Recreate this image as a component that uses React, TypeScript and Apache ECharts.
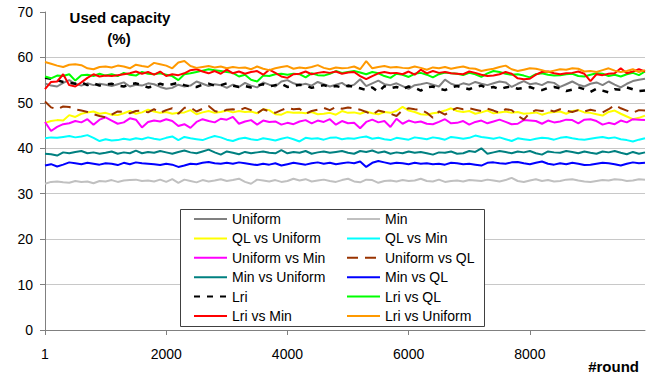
import React, { useEffect, useRef } from "react";
import * as echarts from "echarts";

const rounds: string[] = Array.from({ length: 100 }, (_, i) => (i === 0 ? "1" : String(i * 100)));

const uniform = [
  54.3, 53.8, 53.6, 54.4, 55.0, 54.2, 53.8, 54.3, 53.9, 54.2,
  54.0, 53.7, 54.1, 54.5, 53.6, 54.0, 53.8, 54.3, 54.1, 53.5,
  53.1, 53.3, 54.0, 53.6, 53.8, 54.7, 54.2, 53.7, 54.1, 53.9,
  53.3, 54.0, 53.5, 54.4, 53.8, 53.4, 54.5, 54.0, 53.6, 54.7,
  55.0, 54.3, 53.9, 54.2, 53.8, 54.6, 54.1, 53.6, 54.0, 54.4,
  53.5, 54.0, 55.2, 53.7, 54.3, 54.9, 54.1, 53.9, 54.3, 53.7,
  53.1, 53.9, 54.1, 54.4, 54.0, 53.6, 55.1, 54.2, 53.8, 54.3,
  54.0, 54.6, 54.2, 53.9, 54.3, 54.7, 54.5, 53.5, 54.2, 54.8,
  54.1, 54.3, 53.9, 54.6, 54.4, 53.5, 54.1, 54.7, 54.0, 53.6,
  54.2, 54.5, 53.9, 54.7, 54.0, 53.4, 54.2, 54.8, 55.1, 55.3,
];
const minS = [
  32.2, 32.6, 32.7, 32.5, 32.4, 32.8, 32.6, 32.7, 32.3, 32.8,
  32.7, 33.0, 32.6, 32.9, 33.0, 33.1, 32.8, 32.9, 32.7, 33.1,
  32.6, 33.2, 32.4, 33.1, 32.8, 32.5, 33.0, 32.7, 32.9, 33.2,
  32.8, 33.0, 33.3, 32.6, 32.2, 33.1, 32.9, 32.7, 33.0, 32.6,
  32.8, 33.3, 32.9, 33.2, 32.7, 32.9, 33.1, 32.8, 32.6, 33.0,
  33.3, 32.7, 32.5, 33.1, 33.0, 32.4, 32.8, 32.9, 32.7, 33.0,
  32.8, 32.9, 33.3, 32.8, 32.7, 33.1, 32.6, 32.8, 32.9, 32.7,
  33.0, 32.9, 32.8, 33.1, 32.9, 32.7, 33.0, 33.5, 32.8, 32.6,
  32.9, 33.2, 32.8, 33.0, 32.7, 32.8, 33.1, 33.2, 32.9, 32.7,
  32.6, 32.8, 33.0, 32.9, 33.2, 33.1, 32.8, 32.9, 33.2, 33.1,
];
const qlVsUniform = [
  45.6, 46.0, 46.2, 46.1, 47.3, 46.9, 47.6, 47.9, 48.1, 47.6,
  47.8, 47.4, 47.3, 47.7, 48.2, 47.6, 47.9, 48.5, 48.1, 47.8,
  48.0, 47.6, 47.8, 47.9, 48.4, 47.5, 47.9, 48.2, 47.8, 48.0,
  48.3, 47.9, 48.2, 48.0, 48.1, 47.7, 48.6, 48.4, 47.5, 47.4,
  48.0, 47.8, 47.9, 47.7, 48.0, 47.5, 47.6, 47.8, 47.4, 48.2,
  47.8, 47.9, 47.6, 48.1, 47.7, 47.5, 48.0, 47.8, 48.2, 49.1,
  48.3, 48.0, 47.5, 47.4, 47.7, 47.9, 48.3, 48.8, 48.2, 48.0,
  48.2, 47.6, 47.9, 48.3, 47.7, 47.9, 48.1, 47.8, 48.0, 47.6,
  47.7, 47.9, 47.4, 47.8, 48.0, 48.1, 47.6, 48.2, 48.4, 47.9,
  47.8, 47.5, 47.2, 48.0, 48.3, 47.6, 47.0, 46.4, 46.7, 47.2,
];
const qlVsMin = [
  42.2, 42.4, 42.3, 42.5, 42.7, 42.4, 42.6, 42.9, 42.3, 41.6,
  42.0, 41.7, 41.8, 42.1, 41.9, 42.2, 42.0, 42.4, 42.1, 41.9,
  42.3, 42.6, 41.8, 42.5, 42.2, 42.0, 41.8, 42.3, 42.7, 42.4,
  41.9, 41.6, 42.1, 42.3, 42.0, 41.8, 42.2, 42.0, 41.7, 42.1,
  42.4, 42.0, 41.5, 42.3, 42.1, 42.2, 41.9, 42.3, 42.4, 42.0,
  42.2, 42.1, 42.4, 42.6, 42.1, 42.3, 42.0, 41.8, 42.3, 42.1,
  41.9, 42.4, 42.2, 42.0, 42.4, 42.2, 41.9, 42.5, 42.3, 42.1,
  42.3, 42.8, 42.5, 42.3, 42.1, 42.4, 42.0, 41.6, 42.2, 42.0,
  41.8, 42.1, 42.3, 42.2, 41.9, 42.3, 42.5, 42.2, 42.0, 41.9,
  42.1, 42.3, 42.5, 42.2, 42.4, 42.0, 41.8, 41.5, 41.9, 42.2,
];
const uniformVsMin = [
  45.8, 43.8, 44.7, 45.3, 45.5, 46.0, 45.7, 46.4, 45.2, 46.3,
  46.8, 46.1, 45.4, 45.7, 46.6, 46.3, 44.6, 45.8, 46.1, 45.9,
  46.4, 46.0, 44.9, 45.3, 44.5, 45.8, 46.4, 46.0, 45.7, 46.5,
  46.3, 46.9, 45.4, 45.9, 46.2, 45.2, 46.1, 45.8, 45.9, 45.2,
  45.6, 45.3, 45.9, 46.2, 45.5, 46.1, 45.8, 46.4, 45.2, 46.0,
  45.5, 45.6, 44.4, 45.8, 46.3, 45.7, 46.0, 44.7, 46.5, 45.4,
  46.1, 45.7, 45.9, 45.4, 45.3, 45.8, 46.4, 45.5, 45.6, 46.0,
  45.2, 45.8, 46.1, 45.5, 45.9, 46.3, 45.8, 45.3, 45.4, 46.2,
  46.1, 46.0, 45.4, 46.1, 45.7, 45.9, 46.3, 46.2, 45.5, 46.3,
  46.4, 46.0, 45.2, 45.6, 45.3, 46.1, 45.7, 46.4, 46.3, 46.2,
];
const uniformVsQL = [
  50.3, 49.0, 48.6, 49.2, 49.1, 48.6, 48.3, 48.0, 47.5, 47.1,
  46.8, 47.4, 48.1, 48.0, 47.7, 48.2, 48.3, 47.9, 48.6, 47.8,
  48.4, 48.8, 47.6, 48.9, 49.0, 48.1, 48.7, 49.3, 48.2, 47.9,
  48.5, 48.6, 48.3, 48.9, 48.4, 47.7, 48.6, 48.1, 47.8, 48.4,
  48.9, 48.6, 48.7, 47.6, 48.2, 48.5, 48.9, 48.4, 49.1, 48.7,
  49.0, 48.8, 48.5, 48.0, 47.4, 48.3, 48.0, 47.6, 47.1, 48.4,
  48.8, 48.6, 48.5, 47.8, 46.7, 48.1, 47.4, 48.3, 48.9, 48.6,
  48.8, 48.5, 48.2, 48.7, 48.3, 47.8, 48.6, 48.4, 47.2, 46.3,
  47.8, 48.4, 48.2, 48.5, 48.1, 48.6, 48.3, 48.0, 48.4, 48.1,
  48.5, 48.2, 47.9, 48.6, 49.5, 48.8, 48.3, 47.8, 48.4, 48.3,
];
const minVsUniform = [
  38.8, 38.7, 38.4, 39.1, 38.9, 39.2, 39.4, 38.9, 39.1, 38.8,
  39.0, 39.3, 38.8, 39.1, 38.9, 39.5, 38.9, 39.2, 39.0, 39.4,
  39.1, 38.8, 39.2, 39.5, 39.1, 38.9, 39.3, 39.7, 39.1, 38.6,
  39.3, 39.0, 38.7, 39.2, 38.9, 39.1, 39.3, 39.0, 38.9, 39.6,
  38.9, 39.2, 39.0, 39.4, 38.8, 39.1, 39.3, 39.0, 39.2, 39.4,
  39.0, 38.8, 39.4, 39.2, 39.5, 39.0, 39.3, 38.8, 39.1, 38.9,
  39.3, 39.0, 39.2, 38.9, 38.6, 39.1, 39.0, 39.3, 38.8, 38.9,
  39.4, 39.2, 40.0, 38.8, 39.1, 39.4, 39.2, 38.9, 39.3, 39.1,
  39.4, 38.9, 38.6, 39.3, 39.1, 39.0, 39.4, 39.2, 38.9, 39.3,
  39.0, 38.8, 39.3, 39.1, 39.4, 39.0, 38.7, 39.2, 38.8, 39.1,
];
const minVsQL = [
  36.2, 36.5, 36.0, 36.4, 36.9, 36.7, 36.5, 36.8, 36.6, 36.4,
  36.7, 36.6, 36.3, 36.8, 36.5, 36.9, 36.7, 36.6, 36.5, 36.3,
  36.6, 36.4, 35.9, 36.2, 36.6, 36.5, 36.8, 37.0, 36.7, 36.6,
  36.8, 36.6, 36.9, 36.7, 36.5, 36.3, 36.6, 36.4, 36.7, 36.2,
  36.5, 36.8, 36.6, 36.4, 36.7, 36.9, 36.6, 36.8, 36.5, 36.7,
  36.9, 36.7, 37.1, 35.9, 36.8, 37.2, 36.9, 36.6, 36.8, 36.7,
  36.5, 36.8, 36.6, 36.7, 36.5, 36.6, 36.4, 36.8, 36.7, 36.5,
  36.6, 36.4, 36.2, 36.8, 36.9, 36.7, 36.6, 36.9, 37.0, 36.7,
  36.5, 36.8, 37.1, 36.6, 36.4, 36.7, 36.5, 36.8, 36.6, 36.3,
  36.4, 36.6, 36.8, 36.7, 36.5, 36.2, 36.6, 36.9, 36.7, 36.8,
];
const lri = [
  55.5, 55.3, 55.0, 54.6, 54.4, 54.2, 54.5, 53.9, 54.3, 53.8,
  54.0, 54.2, 53.8, 53.6, 54.1, 54.3, 53.9, 53.4, 53.7, 54.2,
  53.8, 54.1, 54.4, 53.9, 53.6, 53.5, 54.0, 54.2, 53.8, 53.9,
  54.3, 53.8, 53.5, 53.7, 53.4, 53.8, 54.1, 53.6, 53.9, 54.2,
  53.5, 53.7, 54.0, 53.8, 53.3, 53.6, 53.9, 53.5, 53.7, 53.4,
  53.8, 53.5, 53.2, 52.8, 53.4, 52.4, 53.7, 53.2, 53.5, 53.0,
  53.6, 53.3, 52.7, 53.4, 53.6, 53.1, 52.8, 53.4, 53.7, 53.3,
  53.0, 53.5, 53.8, 53.2, 53.5, 53.0, 53.4, 53.6, 53.1, 53.3,
  53.5, 53.0, 52.8, 53.3, 53.5, 53.2, 52.6, 52.9, 53.4, 53.0,
  52.4, 53.1, 52.7, 52.3, 53.0, 52.9, 53.4, 53.0, 52.6, 52.7,
];
const lriVsQL = [
  55.8, 55.4, 56.0, 55.9, 56.3, 54.9, 56.1, 56.2, 55.9, 56.4,
  56.0, 56.3, 55.9, 56.6, 56.2, 56.0, 56.8, 56.4, 56.3, 56.5,
  56.2, 55.9, 55.0, 56.3, 56.5, 56.8, 57.1, 57.4, 57.2, 57.0,
  56.8, 56.6, 55.8, 56.2, 55.1, 54.7, 56.0, 55.9, 56.3, 56.4,
  56.2, 56.4, 56.3, 55.6, 56.5, 56.1, 56.0, 56.4, 57.0, 56.6,
  56.8, 57.0, 56.7, 56.3, 56.8, 56.5, 55.9, 55.5, 56.4, 56.2,
  55.7, 56.4, 56.6, 56.2, 55.6, 56.3, 56.7, 56.5, 56.4, 56.1,
  56.6, 56.3, 55.7, 56.5, 57.0, 56.8, 56.4, 56.2, 56.3, 56.0,
  55.6, 56.3, 56.5, 56.2, 56.0, 56.1, 56.3, 56.4, 55.9, 55.8,
  56.2, 56.5, 56.4, 55.9, 56.2, 55.8, 56.3, 56.6, 56.1, 56.9,
];
const lriVsMin = [
  53.0, 54.6, 54.7, 56.3, 53.9, 53.6, 54.5, 55.5, 56.3, 55.8,
  56.0, 55.9, 56.1, 56.3, 56.5, 56.9, 56.4, 56.8, 56.2, 56.9,
  55.9, 56.3, 56.1, 56.5, 57.2, 57.4, 56.9, 56.5, 57.0, 56.4,
  57.3, 56.5, 56.9, 56.4, 56.8, 57.0, 56.2, 57.3, 56.6, 55.8,
  55.5, 56.3, 56.4, 56.9, 56.3, 56.6, 56.8, 56.6, 56.9, 56.4,
  56.7, 56.8, 55.9, 55.2, 55.9, 56.5, 56.8, 56.5, 56.6, 56.3,
  56.9, 56.2, 57.3, 56.5, 57.0, 56.6, 56.8, 56.5, 56.4, 56.3,
  56.9, 56.6, 56.2, 55.9, 56.0, 56.3, 56.8, 56.4, 55.4, 55.2,
  55.3, 56.2, 56.8, 56.9, 56.5, 56.3, 56.5, 56.6, 56.9, 56.4,
  54.8, 56.3, 56.1, 56.4, 56.5, 57.6, 56.5, 56.9, 57.4, 56.9,
];
const lriVsUniform = [
  59.0, 58.6, 58.2, 57.9, 58.4, 58.5, 58.3, 57.6, 57.4, 57.9,
  58.0, 57.8, 58.2, 58.0, 57.6, 58.4, 58.1, 57.9, 58.8, 58.5,
  58.2, 57.6, 58.9, 59.2, 58.1, 57.7, 57.9, 58.1, 57.8, 58.0,
  57.6, 57.9, 57.7, 57.8, 57.4, 58.0, 57.5, 57.2, 57.6, 57.9,
  58.1, 57.5, 57.8, 57.6, 57.9, 58.3, 57.7, 57.4, 57.8, 57.6,
  57.7, 58.0, 57.4, 59.2, 57.6, 57.9, 58.1, 57.8, 57.9, 57.7,
  57.6, 58.0, 57.7, 57.3, 57.8, 57.6, 57.9, 57.5, 57.8, 58.0,
  57.6, 57.5, 57.0, 57.3, 57.5, 57.9, 58.2, 57.4, 57.0, 57.3,
  57.6, 57.5, 57.2, 56.8, 57.1, 57.4, 57.3, 57.6, 57.5, 56.9,
  57.0, 56.8, 57.2, 57.6, 57.1, 56.8, 57.0, 57.4, 56.8, 57.2,
];

const yTicks = [0, 10, 20, 30, 40, 50, 60, 70];

type S = { name: string; data: number[]; color: string; dash?: number[]; width?: number };
const seriesDefs: S[] = [
  { name: "Uniform", data: uniform, color: "#808080" },
  { name: "Min", data: minS, color: "#C0C0C0" },
  { name: "QL vs Uniform", data: qlVsUniform, color: "#FFFF00" },
  { name: "QL vs Min", data: qlVsMin, color: "#00FFFF" },
  { name: "Uniform vs Min", data: uniformVsMin, color: "#FF00FF" },
  { name: "Uniform vs QL", data: uniformVsQL, color: "#993300", dash: [11, 7] },
  { name: "Min vs Uniform", data: minVsUniform, color: "#008080" },
  { name: "Min vs QL", data: minVsQL, color: "#0000FF" },
  { name: "Lri", data: lri, color: "#000000", dash: [6, 7], width: 2.5 },
  { name: "Lri vs QL", data: lriVsQL, color: "#00FF00" },
  { name: "Lri vs Min", data: lriVsMin, color: "#FF0000" },
  { name: "Lri vs Uniform", data: lriVsUniform, color: "#FF9900" },
];

const leftCol = ["Uniform", "QL vs Uniform", "Uniform vs Min", "Min vs Uniform", "Lri", "Lri vs Min"];
const rightCol = ["Min", "QL vs Min", "Uniform vs QL", "Min vs QL", "Lri vs QL", "Lri vs Uniform"];

const FONT = "Liberation Sans, Arial, sans-serif";

export default function App() {
  const ref = useRef<HTMLDivElement>(null);
  useEffect(() => {
    if (!ref.current) return;
    const chart = echarts.init(ref.current, undefined, { renderer: "svg" });
    const legendBase = {
      orient: "vertical",
      top: 212,
      padding: 0,
      itemWidth: 33,
      itemHeight: 14,
      itemGap: 5.4,
      itemStyle: { opacity: 0 },
      textStyle: { fontSize: 14, color: "#000", fontFamily: FONT },
      selectedMode: false,
      z: 5,
    };
    chart.setOption({
      animation: false,
      backgroundColor: "#fff",
      grid: { left: 45, right: 18, top: 12, bottom: 43, containLabel: false },
      legend: [
        { ...legendBase, left: 193, data: leftCol },
        { ...legendBase, left: 346, data: rightCol },
      ],
      xAxis: {
        type: "category",
        data: rounds,
        boundaryGap: false,
        axisLine: { lineStyle: { color: "#808080", width: 1 } },
        axisTick: { interval: 19, length: 5, lineStyle: { color: "#808080" } },
        axisLabel: { interval: 19, margin: 17, fontSize: 14, color: "#000", fontFamily: FONT },
        splitLine: { show: false },
      },
      yAxis: {
        type: "value",
        min: yTicks[0],
        max: yTicks[yTicks.length - 1],
        interval: 10,
        axisLine: { show: true, lineStyle: { color: "#808080", width: 1 } },
        axisTick: { show: true, length: 5, lineStyle: { color: "#808080" } },
        axisLabel: { margin: 12, fontSize: 14, color: "#000", fontFamily: FONT },
        splitLine: { show: true, showMaxLine: false, lineStyle: { color: "#c8c8c8", width: 1 } },
      },
      graphic: [
        {
          type: "rect",
          z: 3,
          shape: { x: 180.5, y: 209.5, width: 304, height: 117 },
          style: { fill: "#fff", stroke: "#404040", lineWidth: 1 },
        },
        {
          type: "text",
          x: 120,
          y: 17,
          style: { text: "Used capacity", font: `bold 15px ${FONT}`, fill: "#000", align: "center", verticalAlign: "middle" },
        },
        {
          type: "text",
          x: 119,
          y: 38,
          style: { text: "(%)", font: `bold 15px ${FONT}`, fill: "#000", align: "center", verticalAlign: "middle" },
        },
        {
          type: "text",
          x: 639,
          y: 366,
          style: { text: "#round", font: `bold 15px ${FONT}`, fill: "#000", align: "right", verticalAlign: "middle" },
        },
      ],
      series: seriesDefs.map((s) => ({
        name: s.name,
        type: "line",
        data: s.data,
        symbol: "none",
        showSymbol: false,
        color: s.color,
        lineStyle: { color: s.color, width: s.width ?? 2, type: s.dash ?? "solid" },
        emphasis: { disabled: true },
      })),
    });
    return () => chart.dispose();
  }, []);
  return (
    <div
      ref={ref}
      style={{ position: "absolute", left: 0, top: 0, width: 663, height: 373, background: "#fff" }}
    />
  );
}
